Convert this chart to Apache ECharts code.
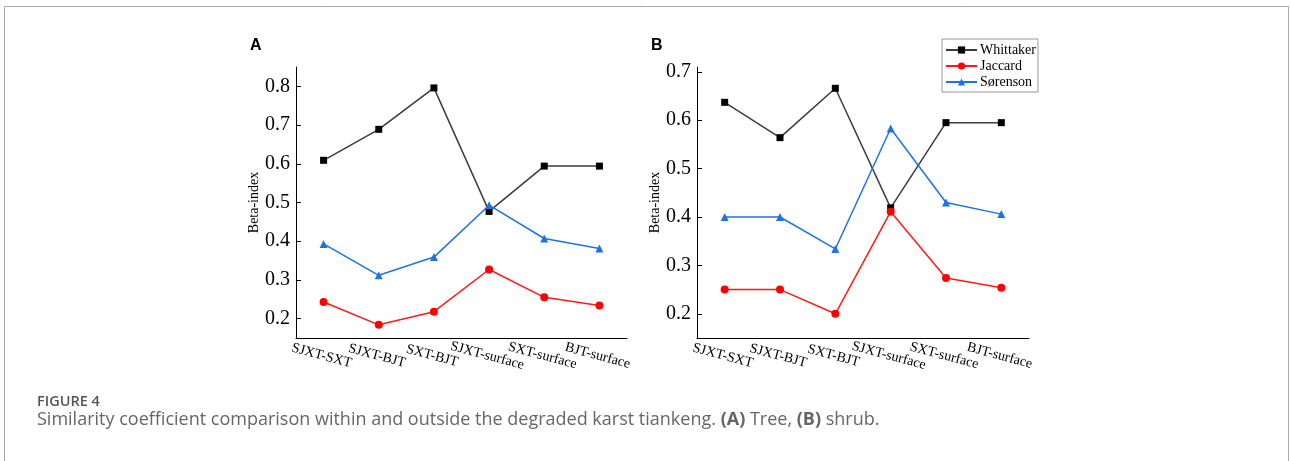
<!DOCTYPE html>
<html>
<head>
<meta charset="utf-8">
<script src="https://cdn.jsdelivr.net/npm/echarts@6/dist/echarts.min.js"></script>
<style>
html,body{margin:0;padding:0;background:#fff;}
#c{width:1290px;height:461px;}
</style>
</head>
<body>
<div id="c"></div>
<script>
const categories = ['SJXT-SXT','SJXT-BJT','SXT-BJT','SJXT-surface','SXT-surface','BJT-surface'];
const treeWhittaker = [0.609, 0.689, 0.796, 0.477, 0.594, 0.594];
const treeJaccard   = [0.243, 0.184, 0.218, 0.327, 0.255, 0.234];
const treeSorenson  = [0.393, 0.312, 0.359, 0.493, 0.407, 0.381];
const shrubWhittaker = [0.637, 0.564, 0.666, 0.419, 0.595, 0.595];
const shrubJaccard   = [0.250, 0.250, 0.200, 0.411, 0.274, 0.254];
const shrubSorenson  = [0.400, 0.400, 0.334, 0.583, 0.430, 0.406];
const yTicksA = [0.2, 0.3, 0.4, 0.5, 0.6, 0.7, 0.8];
const yTicksB = [0.2, 0.3, 0.4, 0.5, 0.6, 0.7];
const seriesNames = ['Whittaker', 'Jaccard', 'Sørenson'];

const serif = '"Liberation Serif", "Times New Roman", serif';
const colors = {Whittaker: '#3c3c3c', Jaccard: '#ff1a1a', 'Sørenson': '#1f73e0'};
const markColors = {Whittaker: '#000000', Jaccard: '#ff0000', 'Sørenson': '#1f73e0'};
const symbols = {Whittaker: 'rect', Jaccard: 'circle', 'Sørenson': 'triangle'};
const symbolSizes = {Whittaker: 7, Jaccard: 8, 'Sørenson': 8};

function xAxis(gi) {
  return {
    type: 'category', gridIndex: gi, data: categories, boundaryGap: true,
    axisLine: {lineStyle: {color: '#000', width: 1}},
    axisTick: {inside: true, length: 5, alignWithLabel: true, lineStyle: {color: '#000'}},
    axisLabel: {rotate: -15, align: 'center', verticalAlign: 'top', margin: 11, interval: 0,
      fontFamily: serif, fontSize: 14, color: '#000'}
  };
}
function yAxis(gi, min, max, ticks) {
  return {
    type: 'value', gridIndex: gi, min: min, max: max,
    name: 'Beta-index', nameLocation: 'middle', nameGap: 33,
    nameTextStyle: {fontFamily: serif, fontSize: 14, color: '#000'},
    axisLine: {show: true, lineStyle: {color: '#000', width: 1}},
    axisTick: {show: true, inside: true, length: 5, customValues: ticks, lineStyle: {color: '#000'}},
    axisLabel: {customValues: ticks, margin: 6, fontFamily: serif, fontSize: 20, color: '#000',
      formatter: v => v.toFixed(1)},
    splitLine: {show: false}
  };
}
function mk(name, gi, data) {
  return {
    name: name, type: 'line', xAxisIndex: gi, yAxisIndex: gi, data: data,
    symbol: symbols[name], symbolSize: symbolSizes[name], showSymbol: true,
    lineStyle: {color: colors[name], width: 1.5},
    itemStyle: {color: markColors[name]},
    emphasis: {disabled: true}, animation: false
  };
}

const chart = echarts.init(document.getElementById('c'), null, {renderer: 'canvas'});
chart.setOption({
  backgroundColor: '#fff',
  animation: false,
  title: [
    {text: 'A', left: 250, top: 38, textStyle: {fontFamily: '"Liberation Sans", Arial, sans-serif', fontWeight: 'bold', fontSize: 16, color: '#000'}, padding: 0},
    {text: 'B', left: 651, top: 38, textStyle: {fontFamily: '"Liberation Sans", Arial, sans-serif', fontWeight: 'bold', fontSize: 16, color: '#000'}, padding: 0},
    {text: 'FIGURE 4', left: 37, top: 394, padding: 0, textStyle: {fontFamily: '"Open Sans", sans-serif', fontWeight: 600, fontSize: 14.5, color: '#555'}},
    {text: 'Similarity coefficient comparison within and outside the degraded karst tiankeng. {b|(A)} Tree, {b|(B)} shrub.', left: 37, top: 411, padding: 0,
      textStyle: {fontFamily: '"Open Sans", sans-serif', fontWeight: 400, fontSize: 18, color: '#666',
        rich: {b: {fontFamily: '"Open Sans", sans-serif', fontWeight: 700, fontSize: 18, color: '#666'}}}}
  ],
  graphic: [
    {type: 'polyline', shape: {points: [[4.5, 461], [4.5, 6.5], [1288.5, 6.5], [1288.5, 461]]},
      style: {stroke: '#aaa', lineWidth: 1, fill: null}, silent: true}
  ],
  legend: {
    data: seriesNames, left: 942, top: 39, orient: 'vertical',
    borderColor: '#999', borderWidth: 1, padding: [4, 2, 3, 3],
    itemWidth: 31, itemHeight: 9, itemGap: 2,
    textStyle: {fontFamily: serif, fontSize: 14, color: '#000', padding: [0, 0, 0, -2]},
    selectedMode: false
  },
  grid: [
    {left: 296, top: 67, width: 331, height: 271},
    {left: 697, top: 67, width: 332, height: 271}
  ],
  xAxis: [xAxis(0), xAxis(1)],
  yAxis: [yAxis(0, 0.15, 0.85, yTicksA), yAxis(1, 0.15, 0.71, yTicksB)],
  series: [
    mk('Whittaker', 0, treeWhittaker), mk('Jaccard', 0, treeJaccard), mk('Sørenson', 0, treeSorenson),
    mk('Whittaker', 1, shrubWhittaker), mk('Jaccard', 1, shrubJaccard), mk('Sørenson', 1, shrubSorenson)
  ]
});
</script>
</body>
</html>
